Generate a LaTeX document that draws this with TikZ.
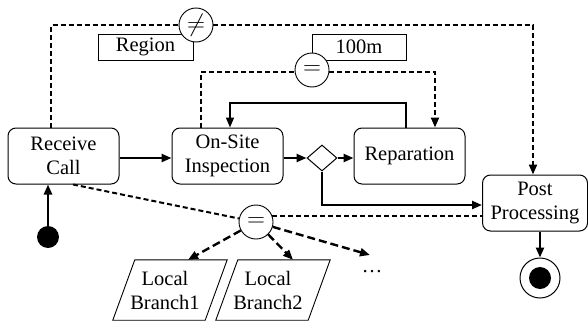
\documentclass[tikz,border=0pt]{standalone}
\usepackage{fontspec}
\setmainfont{Liberation Serif}
\usetikzlibrary{arrows.meta,shapes.geometric,backgrounds}
\tikzset{
  txt/.style={font=\fontsize{20.5}{24}\selectfont, align=center, inner sep=0pt},
  act/.style={txt, draw, line width=1pt, rounded corners=8pt, fill=white, minimum height=56pt},
  cond/.style={circle, draw, line width=0.9pt, fill=white, minimum size=34pt, inner sep=0pt, font=\fontsize{28}{30}\selectfont},
  lbl/.style={txt, draw, line width=0.9pt, fill=white, minimum width=94pt, minimum height=26pt},
  tip/.style={-{Triangle[length=10pt,width=8pt]}},
  flow/.style={tip, line width=2.4pt},
  fb/.style={tip, line width=1.5pt},
  dflow/.style={tip, line width=2pt, dash pattern=on 5pt off 3pt},
  dline/.style={line width=2pt, dash pattern=on 5pt off 3pt},
  dbr/.style={tip, line width=2.4pt, dash pattern=on 8pt off 4pt},
}
\begin{document}
\begin{tikzpicture}[x=1pt,y=-1pt]
\useasboundingbox (0,0) rectangle (588,324);
% activity nodes
\node[act, minimum width=111pt] (rc) at (63.5,156) {Receive\\Call};
\node[act, minimum width=111pt] (osi) at (227.5,156) {On-Site\\Inspection};
\node[act, minimum width=111pt] (rep) at (409.5,156) {Reparation};
\node[act, minimum width=105pt] (pp) at (535,203) {Post\\Processing};
\node[diamond, draw, line width=1pt, fill=white, minimum width=30pt, minimum height=26pt, inner sep=0pt] (dia) at (322,158) {};
\node[circle, fill=black, minimum size=22pt, inner sep=0pt] (start) at (48,237) {};
\node[circle, draw, line width=1pt, minimum size=40pt, inner sep=0pt] (fin) at (540,278) {};
\node[circle, fill=black, minimum size=22pt, inner sep=0pt] (finc) at (fin) {};
% labels
\node[lbl, minimum width=95pt] (region) at (145.5,47) {Region};
\node[lbl] (hm) at (359,47) {100m};
% condition circles
\node[cond] (ne) at (196,25) {$\neq$};
\node[cond] (eqm) at (312,70) {$=$};
\node[cond] (eql) at (256,222) {$=$};
% local branches
\node[txt, minimum width=92pt, minimum height=60pt] (lb1) at (165,290) {Local\\Branch1};
\node[txt, minimum width=92pt, minimum height=60pt] (lb2) at (268,290) {Local\\Branch2};
\draw[line width=0.9pt] ([xshift=-6pt]lb1.south west) -- ([xshift=-6pt]lb1.south east) -- ([xshift=16pt]lb1.north east) -- ([xshift=16pt]lb1.north west) -- cycle;
\draw[line width=0.9pt] ([xshift=-6pt]lb2.south west) -- ([xshift=-6pt]lb2.south east) -- ([xshift=16pt]lb2.north east) -- ([xshift=16pt]lb2.north west) -- cycle;
\node[txt] (dots) at (372,272) {…};
% coordinates
\coordinate (t1) at (51,25);
\coordinate (t2) at (533,25);
\coordinate (m1) at (200.5,72);
\coordinate (m2) at (435,72);
\coordinate (f1) at (406,103);
\coordinate (f2) at (230,103);
\coordinate (r1) at (73,184);
\coordinate (dt) at (370,255);
\coordinate (b1) at ([xshift=23pt]lb1.north);
\coordinate (b2) at ([xshift=25pt]lb2.north);
\begin{pgfonlayer}{background}
\draw[dflow] (rc.north -| t1) -- (t1) -- (t2) -- (pp.north -| t2);
\draw[dflow] (osi.north -| m1) -- (m1) -- (m2) -- (rep.north -| m2);
\end{pgfonlayer}
% solid flows
\draw[flow] (start.north) -- (start.north |- rc.south);
\draw[flow] (rc.east |- dia.west) -- (osi.west |- dia.west);
\draw[flow] (osi.east |- dia.west) -- (dia.west);
\draw[flow] (dia.east) -- (rep.west |- dia.east);
\draw[flow] (dia.south) |- ([yshift=-2pt]pp.west);
\draw[flow] (pp.south -| fin) -- (fin.north);
\draw[fb] (rep.north -| f1) -- (f1) -- (f2) -- (osi.north -| f2);
% lower condition
\draw[dline] (rc.south -| r1) -- (eql);
\draw[dline] (eql.20) -- (eql.20 -| pp.west);
\draw[dbr] (eql) -- (b1);
\draw[dbr] (eql) -- (b2);
\draw[dbr] (eql) -- (dt);
\end{tikzpicture}
\end{document}
